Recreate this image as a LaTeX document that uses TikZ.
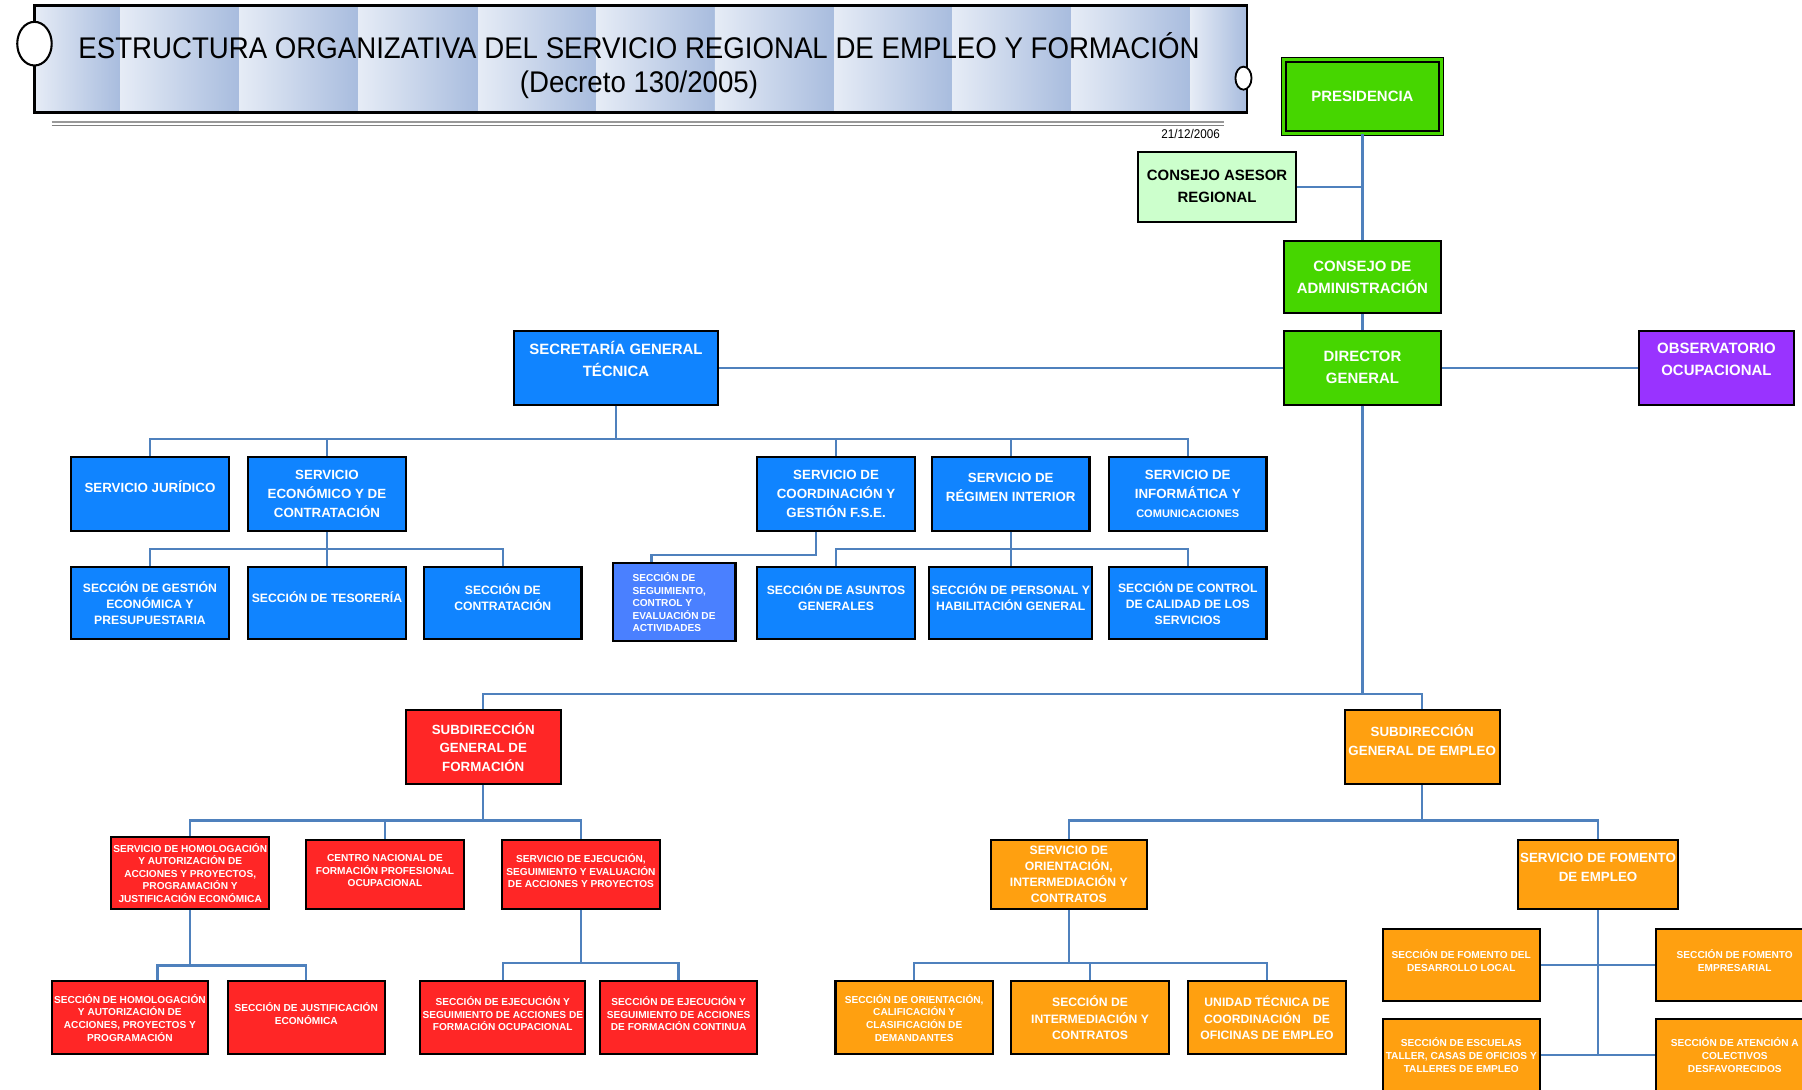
\documentclass[tikz,border=0pt]{standalone}
\usepackage{fontspec}
\usepackage{tikz}
\usetikzlibrary{arrows}
\newfontfamily\cajafont{Liberation Sans}
\newfontfamily\titulofont[FakeStretch=0.925]{Liberation Sans}
\newcommand{\sube}{\\[-2pt]\mbox{}}
\definecolor{cverde}{RGB}{70,214,0}
\definecolor{cclaro}{RGB}{204,255,204}
\definecolor{cazul}{RGB}{16,132,255}
\definecolor{cazulb}{RGB}{74,128,255}
\definecolor{cmorado}{RGB}{153,51,255}
\definecolor{crojo}{RGB}{255,38,38}
\definecolor{cnaranja}{RGB}{255,160,16}
\definecolor{clinea}{RGB}{79,129,189}
\definecolor{tclaro}{RGB}{230,236,246}
\definecolor{toscuro}{RGB}{168,188,222}
\tikzstyle{line} = [draw=clinea, line width=1pt]
\tikzstyle{caja} = [draw=black, line width=0.9pt, text=white, align=center, inner sep=1pt, minimum width=68.5pt, minimum height=31.5pt]
\tikzstyle{fgrande} = [font=\cajafont\bfseries\fontsize{6.5}{9.5}\selectfont]
\tikzstyle{fnormal} = [font=\cajafont\bfseries\fontsize{5.8}{8.2}\selectfont]
\tikzstyle{fmedia} = [font=\cajafont\bfseries\fontsize{5.3}{7}\selectfont]
\tikzstyle{fchica} = [font=\cajafont\bfseries\fontsize{4.4}{5.5}\selectfont]
\tikzstyle{verde} = [caja, fill=cverde, fgrande]
\tikzstyle{azul} = [caja, fill=cazul, fnormal]
\tikzstyle{rojo} = [caja, fill=crojo, fchica]
\tikzstyle{naranja} = [caja, fill=cnaranja, fmedia]
\begin{document}
\begin{tikzpicture}[x=0.5pt,y=-0.5pt]
    \useasboundingbox (0,0) rectangle (1568,948);
    \clip (0,0) rectangle (1568,948);

    % cabecera
    \foreach \xa/\xb in {30/105,105/208,208/312,312/416,416/519,519/622,622/726,726/829,829/932,932/1036,1036/1085}
        \shade[left color=tclaro, right color=toscuro] (\xa,5) rectangle (\xb,98);
    \draw[line width=1.1pt] (30,5) rectangle (1085,98);
    \draw[line width=0.9pt, fill=white] (30,38) ellipse (7.5pt and 9.5pt);
    \draw[line width=0.8pt, fill=white] (1082,68) ellipse (3.5pt and 5pt);
    \node[font=\titulofont\fontsize{13}{15}\selectfont, align=center] (TIT) at (556,57)
        {ESTRUCTURA ORGANIZATIVA DEL SERVICIO REGIONAL DE EMPLEO Y FORMACIÓN\\(Decreto 130/2005)};
    \draw[gray!80, line width=1pt] (45,106) -- (1065,106);
    \draw[gray, line width=0.3pt] (45,109) -- (1065,109);
    \node[font=\titulofont\fontsize{5.5}{6}\selectfont] (FECHA) at (1036,117) {21/12/2006};

    % organos superiores
    \node[verde, double=cverde, double distance=1.2pt, line width=0.7pt, minimum height=32pt] (PR) at (1185.5,84) {PRESIDENCIA};
    \node[caja, fgrande, fill=cclaro, text=black, minimum width=69pt, minimum height=30.5pt] (CAR) at (1059,162.5) {CONSEJO ASESOR\\REGIONAL};
    \node[verde] (CA) at (1185.5,241) {CONSEJO DE\\ADMINISTRACIÓN};
    \node[verde, minimum height=32pt] (DG) at (1185.5,320) {DIRECTOR\\GENERAL};
    \node[caja, fgrande, fill=cmorado, minimum width=67.5pt, minimum height=32pt] (OO) at (1493.5,320) {OBSERVATORIO\\OCUPACIONAL\sube};
    \node[azul, fgrande, minimum width=89pt, minimum height=32pt] (SGT) at (536,320) {SECRETARÍA GENERAL\\TÉCNICA\sube};

    \draw[line] (PR.south) -- (CA.north);
    \draw[line] (CAR.east) -- (CAR.east -| PR.south);
    \draw[line] (CA.south) -- (DG.north);
    \draw[line] (SGT.east) -- (DG.west);
    \draw[line] (DG.east) -- (OO.west);

    % secretaria general tecnica
    \node[azul, minimum height=32pt] (SJ) at (130.5,430) {SERVICIO JURÍDICO\sube};
    \node[azul, minimum height=32pt] (SE) at (284.5,430) {SERVICIO\\ECONÓMICO Y DE\\CONTRATACIÓN};
    \node[azul, minimum height=32pt] (SC) at (727.5,430) {SERVICIO DE\\COORDINACIÓN Y\\GESTIÓN F.S.E.};
    \node[azul, minimum height=32pt] (SR) at (879.5,430) {SERVICIO DE\\RÉGIMEN INTERIOR\sube};
    \node[azul, minimum height=32pt] (SI) at (1033.5,430) {SERVICIO DE\\INFORMÁTICA Y\\{\fontsize{4.8}{6}\selectfont COMUNICACIONES}};

    \node[azul, fmedia] (SGE) at (130.5,524.5) {SECCIÓN DE GESTIÓN\\ECONÓMICA Y\\PRESUPUESTARIA};
    \node[azul, fmedia] (ST) at (284.5,524.5) {SECCIÓN DE TESORERÍA\sube};
    \node[azul, fmedia] (SCo) at (437.5,524.5) {SECCIÓN DE\\CONTRATACIÓN\sube};
    \node[azul, fill=cazulb, fchica, align=left, minimum width=53.5pt, minimum height=34pt] (SSeg) at (586.5,524) {SECCIÓN DE\\SEGUIMIENTO,\\CONTROL Y\\EVALUACIÓN DE\\ACTIVIDADES};
    \node[azul, fmedia] (SAG) at (727.5,524.5) {SECCIÓN DE ASUNTOS\\GENERALES\sube};
    \node[azul, fmedia] (SPH) at (879.5,524.5) {SECCIÓN DE PERSONAL Y\\HABILITACIÓN GENERAL\sube};
    \node[azul, fmedia] (SCC) at (1033.5,524.5) {SECCIÓN DE CONTROL\\DE CALIDAD DE LOS\\SERVICIOS};

    \coordinate (sgtbus) at (536,382);
    \draw[line] (SGT.south) -- (sgtbus);
    \foreach \n in {SJ,SE,SC,SR,SI}
        \draw[line] (sgtbus) -| (\n.north);
    \coordinate (sebus) at (284.5,478);
    \draw[line] (SE.south) -- (sebus);
    \foreach \n in {SGE,ST,SCo}
        \draw[line] (sebus) -| (\n.north);
    \coordinate (scbus) at (710,483);
    \draw[line] ([xshift=-8.75pt]SC.south) -- (scbus) -| ([xshift=-9.75pt]SSeg.north);
    \coordinate (srbus) at (879.5,478);
    \draw[line] (SR.south) -- (srbus);
    \foreach \n in {SAG,SPH,SCC}
        \draw[line] (srbus) -| (\n.north);

    % subdirecciones
    \node[rojo, fnormal, minimum width=67.5pt, minimum height=32pt] (SF) at (420.5,650) {SUBDIRECCIÓN\\GENERAL DE\\FORMACIÓN};
    \node[naranja, fnormal, minimum width=67.5pt, minimum height=32pt] (SEm) at (1237.5,650) {SUBDIRECCIÓN\\GENERAL DE EMPLEO\sube};
    \coordinate (dgbus) at (1185.5,604);
    \draw[line] (DG.south) -- (dgbus);
    \foreach \n in {SF,SEm}
        \draw[line] (dgbus) -| (\n.north);

    % formacion
    \node[rojo, minimum width=67.5pt] (SH) at (165.5,759.5) {SERVICIO DE HOMOLOGACIÓN\\Y AUTORIZACIÓN DE\\ACCIONES Y PROYECTOS,\\PROGRAMACIÓN Y\\JUSTIFICACIÓN ECONÓMICA};
    \node[rojo, minimum width=69pt, minimum height=30pt] (CN) at (335,761) {CENTRO NACIONAL DE\\FORMACIÓN PROFESIONAL\\OCUPACIONAL\sube};
    \node[rojo, minimum height=30pt] (SEj) at (505.5,761) {SERVICIO DE EJECUCIÓN,\\SEGUIMIENTO Y EVALUACIÓN\\DE ACCIONES Y PROYECTOS\sube};
    \node[rojo, minimum width=68pt] (SHs) at (113,885.5) {SECCIÓN DE HOMOLOGACIÓN\\Y AUTORIZACIÓN DE\\ACCIONES, PROYECTOS Y\\PROGRAMACIÓN};
    \node[rojo] (SJE) at (266.5,885.5) {SECCIÓN DE JUSTIFICACIÓN\\ECONÓMICA\sube};
    \node[rojo] (SEO) at (437.5,885.5) {SECCIÓN DE EJECUCIÓN Y\\SEGUIMIENTO DE ACCIONES DE\\FORMACIÓN OCUPACIONAL\sube};
    \node[rojo] (SEC) at (590.5,885.5) {SECCIÓN DE EJECUCIÓN Y\\SEGUIMIENTO DE ACCIONES\\DE FORMACIÓN CONTINUA\sube};

    \coordinate (sfbus) at (420.5,714);
    \draw[line] (SF.south) -- (sfbus);
    \foreach \n in {SH,CN,SEj}
        \draw[line] (sfbus) -| (\n.north);
    \coordinate (shbus) at (165.5,840);
    \draw[line] (SH.south) -- (shbus);
    \draw[line] (shbus) -| ([xshift=12pt]SHs.north);
    \draw[line] (shbus) -| (SJE.north);
    \coordinate (sejbus) at (505.5,838);
    \draw[line] (SEj.south) -- (sejbus);
    \foreach \n in {SEO,SEC}
        \draw[line] (sejbus) -| (\n.north);

    % empleo
    \node[naranja, minimum width=68pt, minimum height=30pt] (SO) at (930,761) {SERVICIO DE\\ORIENTACIÓN,\\INTERMEDIACIÓN Y\\CONTRATOS};
    \node[naranja, fnormal, minimum width=67.5pt, minimum height=30pt] (SFE) at (1390.5,761) {SERVICIO DE FOMENTO\\DE EMPLEO\sube};
    \node[naranja, fchica] (SOC) at (795.5,885.5) {SECCIÓN DE ORIENTACIÓN,\\CALIFICACIÓN Y\\CLASIFICACIÓN DE\\DEMANDANTES};
    \node[naranja] (SIC) at (948.5,885.5) {SECCIÓN DE\\INTERMEDIACIÓN Y\\CONTRATOS};
    \node[naranja] (UT) at (1102.5,885.5) {UNIDAD TÉCNICA DE\\COORDINACIÓN\quad DE\\OFICINAS DE EMPLEO};
    \node[naranja, fchica] (SDL) at (1271.5,839.5) {SECCIÓN DE FOMENTO DEL\\DESARROLLO LOCAL\sube};
    \node[naranja, fchica] (SFEm) at (1509.5,839.5) {SECCIÓN DE FOMENTO\\EMPRESARIAL\sube};
    \node[naranja, fchica] (SET) at (1271.5,918) {SECCIÓN DE ESCUELAS\\TALLER, CASAS DE OFICIOS Y\\TALLERES DE EMPLEO};
    \node[naranja, fchica] (SAC) at (1509.5,918) {SECCIÓN DE ATENCIÓN A\\COLECTIVOS\\DESFAVORECIDOS};

    \coordinate (sembus) at (1237.5,714);
    \draw[line] (SEm.south) -- (sembus);
    \foreach \n in {SO,SFE}
        \draw[line] (sembus) -| (\n.north);
    \coordinate (sobus) at (930,838);
    \draw[line] (SO.south) -- (sobus);
    \foreach \n in {SOC,SIC,UT}
        \draw[line] (sobus) -| (\n.north);
    \draw[line] (SFE.south) -- (SFE.south |- SET.east);
    \draw[line] (SDL.east) -- (SFEm.west);
    \draw[line] (SET.east) -- (SAC.west);

\end{tikzpicture}
\end{document}
